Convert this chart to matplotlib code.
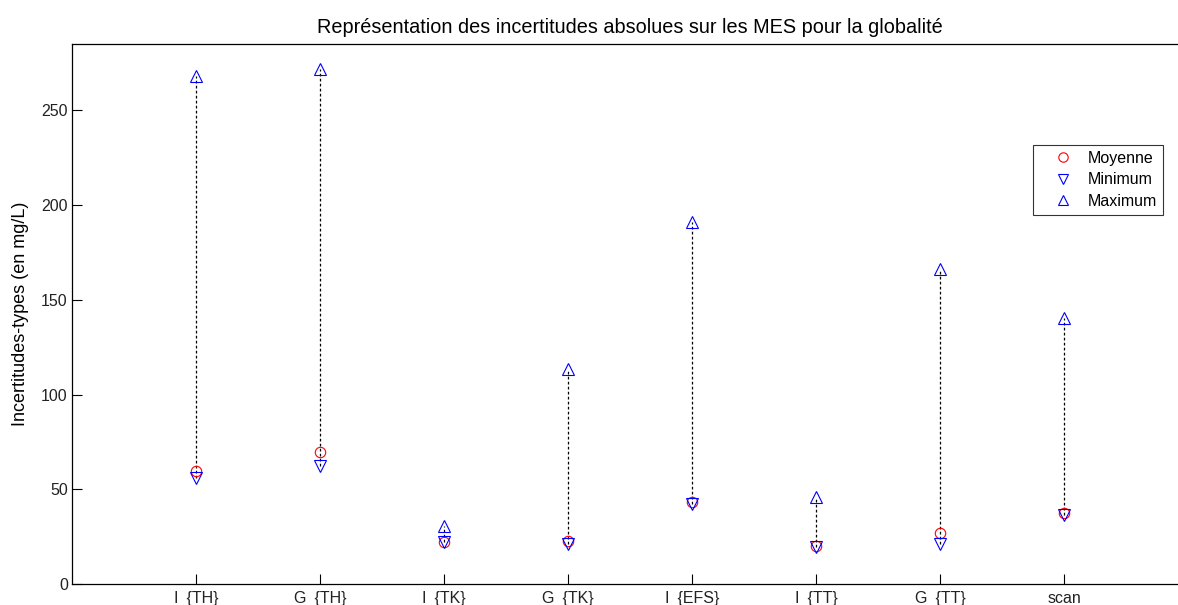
import matplotlib
matplotlib.use("Agg")
import matplotlib.pyplot as plt
import numpy as np

categories = ["I_{TH}", "G_{TH}", "I_{TK}", "G_{TK}", "I_{EFS}", "I_{TT}", "G_{TT}", "scan"]
moyenne = [59.7, 69.8, 22.3, 22.7, 43.3, 20.0, 27.0, 37.5]
minimum = [56.0, 62.4, 22.0, 21.0, 42.3, 19.5, 21.0, 36.5]
maximum = [268.0, 272.0, 30.7, 113.6, 191.3, 46.0, 166.0, 140.6]

plt.rcParams['font.family'] = ['Liberation Sans', 'DejaVu Sans']

fig = plt.figure(figsize=(11.78, 6.05), dpi=100)
ax = fig.add_axes([72/1178, 21/605, 1116/1178, 540/605])

x = np.arange(1, len(categories) + 1)
for xi, lo, hi in zip(x, minimum, maximum):
    ax.plot([xi, xi], [lo, hi], color='black', linestyle=(0, (2.2, 1.8)), linewidth=0.9, zorder=1)

ax.plot(x, moyenne, linestyle='none', marker='o', markersize=7.5, markerfacecolor='none',
        markeredgecolor='red', markeredgewidth=0.8, label='Moyenne', zorder=3)
ax.plot(x, minimum, linestyle='none', marker='v', markersize=8, markerfacecolor='none',
        markeredgecolor='blue', markeredgewidth=0.8, label='Minimum', zorder=3)
ax.plot(x, maximum, linestyle='none', marker='^', markersize=8, markerfacecolor='none',
        markeredgecolor='blue', markeredgewidth=0.8, label='Maximum', zorder=3)

ax.set_xlim(0, 9)
ax.set_ylim(0, 285)
ax.set_xticks(x)
ax.set_xticklabels(categories)
ax.set_yticks([0, 50, 100, 150, 200, 250])
ax.tick_params(direction='in', length=7, width=0.8, labelsize=11.5, colors='black',
               labelcolor='#222222', pad=5)
ax.tick_params(axis='y', pad=3)
for s in ax.spines.values():
    s.set_linewidth(0.9)

ax.set_title("Représentation des incertitudes absolues sur les MES pour la globalité",
             fontsize=14.3, pad=8)
ax.set_ylabel("Incertitudes-types (en mg/L)", fontsize=13, labelpad=9)

leg = ax.legend(loc='upper right', bbox_to_anchor=(1163/1178, 1 - 145/605),
                bbox_transform=fig.transFigure, fontsize=11.5, frameon=True, fancybox=False,
                edgecolor='black', borderaxespad=0, handlelength=3.0, handletextpad=0.1,
                labelspacing=0.42, borderpad=0.35, numpoints=1, markerscale=0.9)
leg.get_frame().set_linewidth(0.8)

fig.savefig("out.png", dpi=100)
